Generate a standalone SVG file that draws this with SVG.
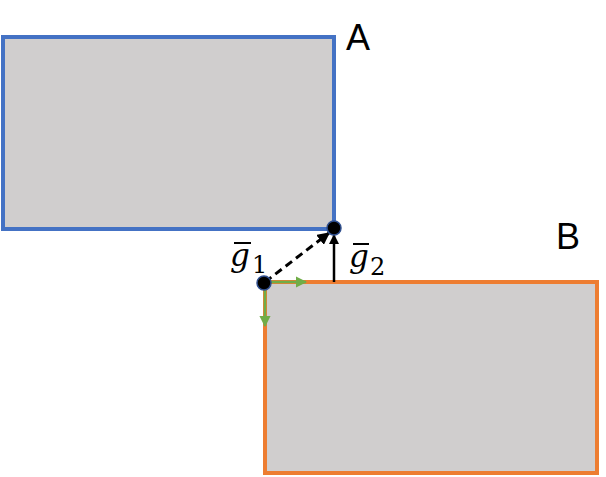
<svg xmlns="http://www.w3.org/2000/svg" width="606" height="477" viewBox="0 0 606 477">
<defs>
<marker id="ah" viewBox="0 0 10 10" refX="9" refY="5" markerWidth="4.2" markerHeight="4.2" orient="auto"><path d="M0,0 L10,5 L0,10 z" fill="#000"/></marker>
<marker id="ag" viewBox="0 0 10 10" refX="9" refY="5" markerWidth="4.5" markerHeight="4.5" orient="auto"><path d="M0,0 L10,5 L0,10 z" fill="#70AD47"/></marker>
</defs>
<style>
.box{fill:#D0CECE;stroke-width:4}
.lbl{font-family:"Liberation Sans",Arial,sans-serif;font-size:36px;fill:#000}
.math{font-family:"DejaVu Serif","Liberation Serif",serif;font-size:31px;fill:#000}
.sub{font-family:"DejaVu Serif","Liberation Serif",serif;font-size:24px;fill:#000}
.dot{fill:#000;stroke:#2F4F8F;stroke-width:1.5}
</style>
<g id="A">
<rect class="box" x="3" y="37" width="331" height="192" stroke="#4472C4"/>
<text class="lbl" x="346" y="50">A</text>
</g>
<g id="B">
<rect class="box" x="265" y="282" width="332" height="191" stroke="#ED7D31"/>
<text class="lbl" x="556" y="249">B</text>
</g>
<g id="connectors">
<line x1="265" y1="282" x2="329" y2="233" stroke="#000" stroke-width="3" stroke-dasharray="8,5" marker-end="url(#ah)"/>
<line x1="334" y1="282" x2="334" y2="235" stroke="#000" stroke-width="2.5" marker-end="url(#ah)"/>
<line x1="265" y1="282" x2="306" y2="282" stroke="#70AD47" stroke-width="2.5" marker-end="url(#ag)"/>
<line x1="265" y1="282" x2="265" y2="326" stroke="#70AD47" stroke-width="2.5" marker-end="url(#ag)"/>
</g>
<g id="dots">
<circle class="dot" cx="334" cy="228" r="7"/>
<circle class="dot" cx="264" cy="283" r="7"/>
</g>
<g id="labels">
<text class="math" x="230" y="266" font-style="italic">g</text>
<line x1="234" y1="243" x2="251" y2="243" stroke="#000" stroke-width="2"/>
<text class="sub" x="252" y="273">1</text>
<text class="math" x="349" y="267" font-style="italic">g</text>
<line x1="353" y1="244" x2="369" y2="244" stroke="#000" stroke-width="2"/>
<text class="sub" x="370" y="275">2</text>
</g>
</svg>
